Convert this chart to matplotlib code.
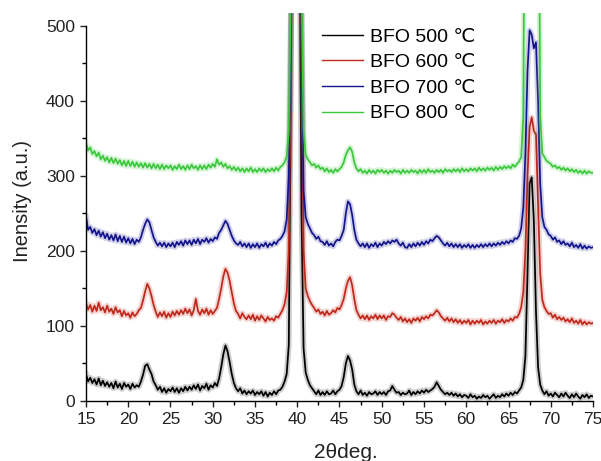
import numpy as np
import matplotlib
matplotlib.use("Agg")
import matplotlib.pyplot as plt
import matplotlib.patheffects as pe
from matplotlib.lines import Line2D

plt.rcParams['font.family'] = ['Liberation Sans', 'DejaVu Sans']

# 2-theta grid (0.25 deg steps from 15 to 75)
two_theta = np.arange(15.0, 75.001, 0.25)

# Intensity values, one row per degree (15.00, 15.25, 15.50, 15.75)
bfo_500 = [
    36, 26, 31, 24,  29, 22, 30, 21,  27, 20, 25, 19,  24, 17, 26, 18,  23, 16, 24, 19,   # 15-19
    22, 16, 23, 18,  21, 19, 26, 35,  47, 49, 42, 36,  26, 21, 15, 19,  12, 17, 11, 16,   # 20-24
    13, 18, 12, 17,  11, 17, 13, 19,  14, 19, 15, 21,  16, 22, 14, 20,  17, 23, 15, 21,   # 25-29
    18, 24, 20, 30,  45, 62, 74, 66,  52, 36, 24, 17,  13, 17, 10, 14,  9, 13, 10, 14,    # 30-34
    8, 12, 9, 13,    7, 12, 6, 11,    8, 13, 9, 14,    15, 19, 26, 36,  75, 420, 900, 1000,  # 35-39
    950, 700, 250, 70,  38, 28, 21, 17,  13, 9, 14, 8,  12, 8, 13, 9,  10, 14, 9, 13,     # 40-44
    15, 20, 32, 50,  60, 54, 42, 22,  13, 9, 14, 8,    11, 7, 12, 9,    10, 13, 8, 12,    # 45-49
    9, 12, 8, 13,    14, 20, 15, 11,  12, 8, 11, 9,    10, 14, 8, 12,   9, 13, 10, 14,    # 50-54
    11, 15, 12, 14,  16, 19, 25, 20,  15, 12, 9, 11,   8, 11, 7, 10,    6, 9, 5, 8,       # 55-59
    7, 4, 9, 5,      7, 3, 6, 4,      8, 5, 7, 3,      6, 9, 4, 7,      5, 9, 6, 10,      # 60-64
    7, 11, 8, 12,    10, 14, 18, 28,  60, 170, 290, 298,  240, 120, 45, 22,  14, 9, 13, 7,  # 65-69
    10, 6, 11, 8,    5, 10, 6, 11,    7, 4, 9, 5,      10, 6, 3, 8,     5, 9, 4, 7,       # 70-74
    6,                                                                                    # 75
]

bfo_600 = [
    130, 122, 128, 119,  127, 120, 131, 121,  125, 118, 127, 119,  123, 116, 125, 118,  121, 113, 120, 114,
    117, 111, 118, 113,  116, 121, 124, 134,  146, 156, 150, 140,  128, 119, 112, 118,  113, 119, 111, 117,
    112, 119, 114, 120,  115, 121, 116, 123,  117, 122, 114, 121,  136, 120, 115, 122,  117, 123, 115, 121,
    116, 120, 124, 136,  150, 166, 176, 171,  160, 145, 130, 120,  116, 110, 117, 112,  109, 114, 109, 115,
    107, 113, 108, 114,  110, 106, 112, 108,  110, 107, 113, 111,  116, 121, 129, 145,  200, 450, 850, 1000,
    1000, 900, 500, 200,  150, 140, 133, 128,  124, 119, 122, 116,  119, 114, 120, 115,  117, 121, 118, 124,
    122, 128, 136, 150,  160, 165, 154, 136,  121, 115, 110, 114,  109, 114, 108, 113,  110, 115, 109, 114,
    110, 114, 108, 113,  112, 117, 115, 111,  108, 112, 106, 110,  105, 109, 104, 110,  107, 111, 106, 112,
    109, 113, 110, 115,  114, 117, 121, 118,  113, 110, 107, 111,  106, 110, 105, 109,  104, 108, 103, 107,
    104, 108, 102, 107,  103, 107, 104, 108,  102, 106, 103, 107,  104, 108, 103, 107,  105, 109, 104, 108,
    106, 110, 107, 112,  111, 116, 125, 145,  200, 300, 365, 378,  360, 355, 260, 170,  135, 125, 120, 116,
    117, 111, 115, 109,  112, 108, 111, 106,  109, 105, 110, 104,  107, 103, 108, 102,  106, 102, 105, 103,
    104,
]

bfo_700 = [
    246, 228, 232, 224,  229, 221, 227, 219,  225, 217, 223, 215,  221, 214, 222, 213,  220, 212, 219, 211,
    217, 210, 216, 209,  215, 212, 218, 228,  236, 242, 238, 228,  218, 212, 207, 211,  206, 211, 205, 210,
    206, 211, 205, 212,  208, 213, 207, 214,  209, 214, 208, 215,  210, 216, 209, 215,  212, 217, 211, 216,
    213, 218, 216, 224,  228, 234, 240, 236,  228, 220, 214, 210,  208, 212, 206, 210,  205, 210, 204, 209,
    205, 210, 204, 209,  206, 211, 205, 210,  207, 212, 209, 214,  216, 220, 226, 242,  300, 500, 900, 1000,
    1000, 900, 520, 280,  245, 236, 230, 224,  221, 216, 219, 213,  212, 208, 213, 207,  210, 206, 212, 215,
    214, 220, 228, 250,  266, 262, 248, 228,  215, 210, 206, 210,  205, 210, 204, 209,  206, 211, 205, 210,
    207, 212, 209, 213,  210, 214, 212, 215,  210, 207, 211, 205,  204, 209, 205, 210,  206, 211, 207, 212,
    208, 213, 210, 215,  213, 217, 220, 218,  214, 210, 207, 211,  206, 210, 205, 209,  205, 209, 204, 208,
    205, 209, 204, 208,  204, 208, 205, 209,  205, 209, 206, 210,  206, 210, 207, 211,  208, 212, 209, 213,
    210, 214, 212, 217,  216, 220, 230, 258,  330, 440, 494, 488,  470, 478, 400, 290,  245, 232, 228, 222,
    220, 215, 218, 212,  214, 209, 213, 208,  210, 206, 211, 205,  208, 204, 209, 203,  207, 203, 206, 204,
    205,
]

bfo_800 = [
    344, 334, 338, 329,  333, 326, 331, 322,  327, 320, 325, 318,  324, 317, 323, 316,  321, 314, 320, 313,
    320, 313, 319, 312,  318, 312, 317, 311,  317, 311, 316, 310,  316, 310, 315, 309,  315, 309, 314, 310,
    314, 308, 313, 309,  315, 309, 313, 308,  314, 309, 315, 310,  313, 308, 314, 309,  314, 309, 315, 311,
    316, 312, 322, 315,  318, 312, 316, 310,  313, 308, 312, 307,  311, 306, 310, 305,  310, 306, 311, 305,
    309, 305, 310, 306,  310, 305, 309, 306,  310, 306, 311, 307,  312, 314, 318, 326,  360, 550, 900, 1000,
    1000, 900, 550, 360,  328, 322, 318, 314,  316, 311, 314, 309,  311, 306, 310, 305,  308, 304, 309, 306,
    309, 312, 318, 328,  334, 338, 332, 318,  310, 306, 309, 304,  307, 303, 308, 304,  307, 303, 308, 305,
    308, 304, 307, 303,  307, 304, 308, 305,  307, 303, 308, 304,  307, 304, 308, 305,  307, 303, 308, 304,
    308, 304, 309, 305,  307, 304, 308, 305,  308, 304, 309, 306,  308, 305, 309, 306,  309, 305, 310, 306,
    309, 306, 310, 307,  310, 306, 311, 307,  310, 307, 311, 308,  311, 307, 312, 308,  312, 309, 313, 310,
    313, 310, 315, 312,  316, 319, 325, 380,  900, 1100, 1100, 1100,  1100, 1100, 900, 380,  330, 325, 320, 318,
    316, 312, 314, 310,  312, 308, 311, 307,  310, 306, 309, 305,  308, 304, 307, 303,  307, 303, 306, 304,
    304,
]

series_labels = ["BFO 500 \u2103", "BFO 600 \u2103", "BFO 700 \u2103", "BFO 800 \u2103"]
series_colors = ["#000000", "#c0281c", "#14148c", "#3cc83c"]
x_ticks = [15, 20, 25, 30, 35, 40, 45, 50, 55, 60, 65, 70, 75]
y_ticks = [0, 100, 200, 300, 400, 500]

W, H = 601, 461
fig = plt.figure(figsize=(W / 100, H / 100), dpi=100)
ax = fig.add_axes([86 / W, 60 / H, (593 - 86) / W, (448 - 60) / H])

for ys, lab, col in zip([bfo_500, bfo_600, bfo_700, bfo_800], series_labels, series_colors):
    ax.plot(two_theta, ys, color=col, lw=1.25, label=lab,
            path_effects=[pe.Stroke(linewidth=4.0, foreground=col, alpha=0.2), pe.Normal()])

ax.set_xlim(15, 75)
ax.set_ylim(0, 517)
ax.spines['top'].set_visible(False)
ax.spines['right'].set_visible(False)
ax.spines['left'].set_bounds(0, 500)
ax.spines['left'].set_linewidth(1.0)
ax.spines['bottom'].set_linewidth(1.0)

ax.set_xticks(x_ticks)
ax.set_yticks(y_ticks)
ax.set_xticks(np.arange(17.5, 75, 5), minor=True)
ax.set_yticks(np.arange(50, 500, 100), minor=True)
ax.tick_params(which='major', direction='out', length=4.5, width=1.0, labelsize=12.5, colors='#222222')
ax.tick_params(which='minor', direction='out', length=3, width=1.0)

ax.set_xlabel("2\u03b8deg.", fontsize=15, color='#222222')
ax.xaxis.set_label_coords((346 - 86) / 507, (401 - 443) / 388)
ax.set_ylabel("Inensity (a.u.)", fontsize=14.5, color='#222222')
ax.yaxis.set_label_coords((32 - 86) / 507, (401 - 201) / 388)

handles = [Line2D([], [], color=c, lw=1.0) for c in series_colors]
ax.legend(handles, series_labels, loc='upper left',
          bbox_to_anchor=(322 / W, 1 - 28 / H), bbox_transform=fig.transFigure,
          frameon=False, borderpad=0, borderaxespad=0, handlelength=2.1,
          handletextpad=0.36, labelspacing=0.41, fontsize=14)

fig.savefig("out.png", dpi=100)
